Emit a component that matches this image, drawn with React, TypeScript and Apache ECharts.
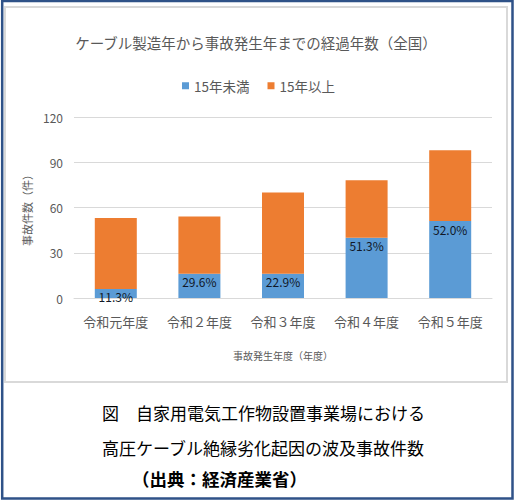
import * as echarts from "echarts";
import { useEffect, useRef } from "react";

const years = ["令和元年度", "令和２年度", "令和３年度", "令和４年度", "令和５年度"];
const under15 = [6, 16, 16, 40, 51];
const over15 = [47, 38, 54, 38, 47];
const shareLabels = ["11.3%", "29.6%", "22.9%", "51.3%", "52.0%"];
const yTicks = { min: 0, max: 120, interval: 30 };

const FONT = '"Noto Sans CJK JP", "Noto Sans", sans-serif';
const GRAY = "#595959";

export default function App() {
  const box = useRef<HTMLDivElement>(null);

  useEffect(() => {
    if (!box.current) return;
    const c = echarts.init(box.current, undefined, { renderer: "svg" });
    c.setOption({
      animation: false,
      backgroundColor: "#ffffff",
      textStyle: { fontFamily: FONT },
      title: {
        text: "ケーブル製造年から事故発生年までの経過年数（全国）",
        left: 251,
        textAlign: "center",
        top: 30,
        textStyle: { fontSize: 14.5, fontWeight: "normal", color: GRAY, fontFamily: FONT },
      },
      legend: {
        left: "center",
        top: 74,
        itemWidth: 7,
        itemHeight: 7,
        itemGap: 18,
        icon: "rect",
        textStyle: { fontSize: 13.5, color: GRAY, fontFamily: FONT },
        data: ["15年未満", "15年以上"],
      },
      grid: { left: 74, right: 25, top: 117, bottom: 206 },
      xAxis: {
        type: "category",
        data: years,
        axisLine: { lineStyle: { color: "#d9d9d9" } },
        axisTick: { show: false },
        axisLabel: { interval: 0, fontSize: 13, color: GRAY, margin: 17, fontFamily: FONT },
        name: "事故発生年度（年度）",
        nameLocation: "middle",
        nameGap: 52,
        nameTextStyle: { fontSize: 10, color: GRAY, fontFamily: FONT },
      },
      yAxis: {
        type: "value",
        ...yTicks,
        axisLine: { show: false },
        axisTick: { show: false },
        splitLine: { lineStyle: { color: "#d9d9d9" } },
        axisLabel: { fontSize: 12, color: GRAY, margin: 11, fontFamily: FONT },
        name: "事故件数（件）",
        nameLocation: "middle",
        nameRotate: 90,
        nameGap: 42,
        nameTextStyle: { fontSize: 11, color: GRAY, fontFamily: FONT },
      },
      series: [
        {
          name: "15年未満",
          type: "bar",
          stack: "total",
          barWidth: 42,
          data: under15,
          itemStyle: { color: "#5B9BD5" },
          label: {
            show: true,
            position: "insideTop",
            distance: 2,
            formatter: ({ dataIndex }: { dataIndex: number }) => shareLabels[dataIndex],
            color: "#111827",
            fontSize: 12,
            fontFamily: FONT,
          },
        },
        {
          name: "15年以上",
          type: "bar",
          stack: "total",
          barWidth: 42,
          data: over15,
          itemStyle: { color: "#ED7D31" },
        },
      ],
      graphic: [
        {
          type: "rect",
          silent: true,
          z: -10,
          shape: { x: 5, y: 7, width: 502, height: 375 },
          style: { fill: "none", stroke: "#d9d9d9", lineWidth: 2 },
        },
        {
          type: "rect",
          silent: true,
          z: 100,
          shape: { x: 2.2, y: 1, width: 510.3, height: 497.5 },
          style: { fill: "none", stroke: "#2F5288", lineWidth: 2.5 },
        },
        {
          type: "text",
          x: 102,
          y: 412,
          style: {
            text: "図　自家用電気工作物設置事業場における",
            fontSize: 17,
            fill: "#000",
            fontFamily: FONT,
            verticalAlign: "middle",
          },
        },
        {
          type: "text",
          x: 102,
          y: 447,
          style: {
            text: "高圧ケーブル絶縁劣化起因の波及事故件数",
            fontSize: 17,
            fill: "#000",
            fontFamily: FONT,
            verticalAlign: "middle",
          },
        },
        {
          type: "text",
          x: 132,
          y: 478,
          style: {
            text: "（出典：経済産業省）",
            fontSize: 17.5,
            fontWeight: "bold",
            fill: "#000",
            fontFamily: FONT,
            verticalAlign: "middle",
          },
        },
      ],
    });
    return () => c.dispose();
  }, []);

  return <div ref={box} style={{ position: "fixed", left: 0, top: 0, width: 517, height: 504 }} />;
}
